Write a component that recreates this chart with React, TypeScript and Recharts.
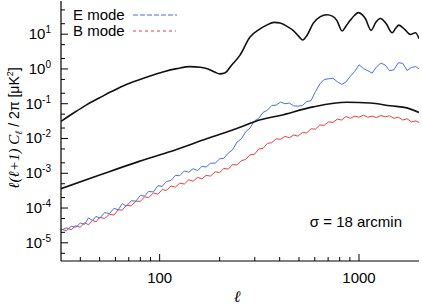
import { Line, LineChart, XAxis, YAxis } from "recharts";

// multipole grid for the simulated spectra
const ELL = [
  32, 34, 36, 38, 40, 42, 44, 46, 48, 50, 53, 56, 59, 62, 65, 68, 72, 76, 80, 84,
  88, 93, 98, 103, 108, 114, 120, 126, 133, 140, 147, 155, 163, 171, 180, 190, 200, 210, 221, 232,
  244, 257, 270, 284, 299, 314, 330, 347, 365, 384, 404, 425, 447, 470, 494, 520, 547, 575, 605, 636,
  669, 703, 740, 778, 818, 860, 905, 952, 1001, 1053, 1107, 1164, 1224, 1288, 1354, 1424, 1498, 1575, 1657, 1742,
  1832, 1927, 2000,
];

const E_MODE = [
  2.5e-5, 2.2e-5, 3.0e-5, 2.8e-5, 3.7e-5, 3.4e-5, 5.2e-5, 4.4e-5, 5.8e-5, 5.1e-5,
  7.4e-5, 6.9e-5, 9.8e-5, 8.9e-5, 1.35e-4, 1.12e-4, 1.62e-4, 1.58e-4, 2.3e-4, 2.2e-4,
  3.0e-4, 2.9e-4, 4.4e-4, 4.2e-4, 5.8e-4, 6.2e-4, 8.7e-4, 8.5e-4, 1.17e-3, 1.07e-3,
  1.35e-3, 1.2e-3, 1.58e-3, 1.51e-3, 1.95e-3, 1.95e-3, 2.6e-3, 2.7e-3, 3.8e-3, 4.7e-3,
  7.8e-3, 9.8e-3, 0.0155, 0.02, 0.032, 0.038, 0.056, 0.065, 0.089, 0.091,
  0.112, 0.1, 0.105, 0.087, 0.085, 0.089, 0.115, 0.123, 0.224, 0.37,
  0.5, 0.52, 0.54, 0.43, 0.36, 0.42, 0.62, 0.85, 1.32, 1.02,
  0.89, 0.76, 1.15, 1.48, 1.29, 0.89, 0.95, 1.51, 1.45, 0.91,
  1.1, 1.17, 1.0,
];

const B_MODE = [
  2.3e-5, 2.7e-5, 2.4e-5, 3.1e-5, 2.8e-5, 3.8e-5, 3.3e-5, 4.4e-5, 4.0e-5, 5.4e-5,
  5.0e-5, 6.6e-5, 6.3e-5, 8.9e-5, 8.7e-5, 1.2e-4, 1.15e-4, 1.58e-4, 1.55e-4, 2.1e-4,
  2.0e-4, 2.7e-4, 2.5e-4, 3.4e-4, 3.2e-4, 4.3e-4, 4.0e-4, 5.2e-4, 4.9e-4, 6.5e-4,
  5.9e-4, 7.6e-4, 6.9e-4, 8.7e-4, 8.3e-4, 1.1e-3, 1.05e-3, 1.38e-3, 1.32e-3, 1.78e-3,
  1.74e-3, 2.3e-3, 2.5e-3, 3.4e-3, 3.5e-3, 5.0e-3, 5.2e-3, 7.2e-3, 7.6e-3, 9.8e-3,
  9.5e-3, 0.0115, 0.0105, 0.0126, 0.0117, 0.0148, 0.0145, 0.019, 0.0186, 0.0245,
  0.024, 0.03, 0.029, 0.036, 0.034, 0.043, 0.038, 0.044, 0.041, 0.047,
  0.041, 0.044, 0.04, 0.046, 0.042, 0.045, 0.038, 0.041, 0.034, 0.037,
  0.03, 0.032, 0.029,
];

// theory curves
const EE_ELL = [
  32, 37, 43, 50, 57, 66, 79, 92, 106, 122, 142, 160, 175, 190, 200, 212, 230, 253, 284, 315,
  344, 375, 402, 440, 467, 500, 522, 550, 589, 640, 690, 735, 774, 823, 860, 904, 950, 991, 1040, 1076,
  1150, 1215, 1280, 1370, 1467, 1525, 1585, 1700, 1810, 1920, 2000,
];
const EE_THEORY = [
  0.031, 0.054, 0.093, 0.148, 0.22, 0.33, 0.49, 0.66, 0.85, 1.02, 1.17, 1.12, 1.0, 0.8, 0.72, 0.76, 1.3, 2.5, 8.3, 13.5,
  18.2, 21.9, 21, 16.2, 12.9, 8.5, 6.8, 9.5, 20.4, 32, 36.3, 33, 25, 12.3, 17, 25, 35, 41.7, 36, 28.2,
  12.9, 22, 28.2, 20, 11, 14.5, 18.2, 13.5, 9.8, 11, 7.4,
];

const BB_ELL = [32, 50, 79, 110, 172, 253, 306, 402, 589, 870, 1140, 1440, 1740, 2000];
const BB_THEORY = [3.6e-4, 8.9e-4, 2.2e-3, 4.0e-3, 9.8e-3, 0.021, 0.032, 0.046, 0.081, 0.11, 0.105, 0.087, 0.076, 0.056];

const X_TICKS = [40, 50, 60, 70, 80, 90, 100, 200, 300, 400, 500, 600, 700, 800, 900, 1000];
const Y_TICKS = [
  5e-6, 1e-5, 2e-5, 5e-5, 1e-4, 2e-4, 5e-4, 1e-3, 2e-3, 5e-3, 1e-2, 2e-2, 5e-2,
  1e-1, 2e-1, 5e-1, 1, 2, 5, 10, 20, 50,
];

const measured = ELL.map((l, i) => ({ l, e: E_MODE[i], b: B_MODE[i] }));
const eeData = EE_ELL.map((l, i) => ({ l, v: EE_THEORY[i] }));
const bbData = BB_ELL.map((l, i) => ({ l, v: BB_THEORY[i] }));

const FONT = "'Liberation Sans', Arial, sans-serif";
const SERIF = "'Liberation Serif', serif";
const isMajor = (v: number) => Math.abs(Math.log10(v) - Math.round(Math.log10(v))) < 1e-6;

const BottomTick = ({ x, y, payload }: any) => {
  const major = isMajor(payload.value);
  return (
    <g>
      <line x1={x} x2={x} y1={y} y2={y - (major ? 7 : 4)} stroke="#000" />
      {major && (
        <text x={x} y={y + 22} textAnchor="middle" fontSize={15} fontFamily={FONT} fill="#000">
          {payload.value}
        </text>
      )}
    </g>
  );
};

const TopTick = ({ x, y, payload }: any) => {
  const major = isMajor(payload.value);
  return <line x1={x} x2={x} y1={y} y2={y + (major ? 7 : 4)} stroke="#000" />;
};

const LeftTick = ({ x, y, payload }: any) => {
  const major = isMajor(payload.value);
  const exp = Math.round(Math.log10(payload.value));
  return (
    <g>
      <line x1={x} x2={x + (major ? 7 : 4)} y1={y} y2={y} stroke="#000" />
      {major && (
        <text x={x - 10} y={y + 5} textAnchor="end" fontSize={15} fontFamily={FONT} fill="#000">
          <tspan>10</tspan>
          <tspan dy={-6} fontSize={10}>{exp}</tspan>
        </text>
      )}
    </g>
  );
};

const RightTick = ({ x, y, payload }: any) => {
  const major = isMajor(payload.value);
  return <line x1={x} x2={x - (major ? 7 : 4)} y1={y} y2={y} stroke="#000" />;
};

export default function App() {
  return (
    <div style={{ position: "absolute", left: 0, top: 0, width: 422, height: 305, background: "#fff" }}>
      <LineChart width={422} height={305} margin={{ top: 1, right: 3, bottom: 0, left: 0 }}>
        <XAxis
          xAxisId="b"
          dataKey="l"
          type="number"
          scale="log"
          domain={[32, 2000]}
          allowDataOverflow
          ticks={X_TICKS}
          interval={0}
          tick={BottomTick}
          tickLine={false}
          tickSize={0}
          tickMargin={0}
          height={44}
          axisLine={{ stroke: "#000", strokeWidth: 1.2 }}
        />
        <XAxis
          xAxisId="t"
          orientation="top"
          dataKey="l"
          type="number"
          scale="log"
          domain={[32, 2000]}
          allowDataOverflow
          ticks={X_TICKS}
          interval={0}
          tick={TopTick}
          tickLine={false}
          tickSize={0}
          tickMargin={0}
          height={0}
          axisLine={{ stroke: "#000", strokeWidth: 1.2 }}
        />
        <YAxis
          yAxisId="l"
          type="number"
          scale="log"
          domain={[3e-6, 90]}
          allowDataOverflow
          ticks={Y_TICKS}
          interval={0}
          tick={LeftTick}
          tickLine={false}
          tickSize={0}
          tickMargin={0}
          width={61}
          axisLine={{ stroke: "#000", strokeWidth: 1.2 }}
        />
        <YAxis
          yAxisId="r"
          orientation="right"
          type="number"
          scale="log"
          domain={[3e-6, 90]}
          allowDataOverflow
          ticks={Y_TICKS}
          interval={0}
          tick={RightTick}
          tickLine={false}
          tickSize={0}
          tickMargin={0}
          width={0}
          axisLine={{ stroke: "#000", strokeWidth: 1.2 }}
        />
        <Line
          xAxisId="b"
          yAxisId="l"
          data={measured}
          dataKey="b"
          type="linear"
          stroke="#f03c3c"
          strokeWidth={1}
          dot={false}
          activeDot={false}
          isAnimationActive={false}
        />
        <Line
          xAxisId="b"
          yAxisId="l"
          data={measured}
          dataKey="e"
          type="linear"
          stroke="#4470e6"
          strokeWidth={1}
          dot={false}
          activeDot={false}
          isAnimationActive={false}
        />
        <Line
          xAxisId="b"
          yAxisId="l"
          data={eeData}
          dataKey="v"
          type="monotone"
          stroke="#111"
          strokeWidth={1.6}
          dot={false}
          activeDot={false}
          isAnimationActive={false}
        />
        <Line
          xAxisId="b"
          yAxisId="l"
          data={bbData}
          dataKey="v"
          type="monotone"
          stroke="#111"
          strokeWidth={1.6}
          dot={false}
          activeDot={false}
          isAnimationActive={false}
        />
      </LineChart>
      <svg
        width={422}
        height={305}
        style={{ position: "absolute", left: 0, top: 0, pointerEvents: "none" }}
      >
        <g fontFamily={FONT} fontSize={15} fill="#000">
          <text x={73} y={20}>E mode</text>
          <line x1={133} x2={177} y1={15} y2={15} stroke="#4470e6" strokeDasharray="5 2" />
          <text x={73} y={36}>B mode</text>
          <line x1={133} x2={176} y1={31} y2={31} stroke="#f03c3c" strokeDasharray="3 3" />
          <text x={402} y={227} textAnchor="end">σ = 18 arcmin</text>
        </g>
        <text x={237} y={302} textAnchor="middle" fontSize={16} fontStyle="italic" fontFamily={SERIF}>
          ℓ
        </text>
        <text
          transform="translate(19,128) rotate(-90)"
          textAnchor="middle"
          fontSize={15}
          fontFamily={SERIF}
        >
          <tspan fontStyle="italic">ℓ(ℓ+1) C</tspan>
          <tspan fontStyle="italic" fontSize={10} dy={3}>ℓ</tspan>
          <tspan dy={-3} fontFamily={FONT} fontSize={14}> / 2π [μK</tspan>
          <tspan fontFamily={FONT} fontSize={9} dy={-6}>2</tspan>
          <tspan fontFamily={FONT} fontSize={14} dy={6}>]</tspan>
        </text>
      </svg>
    </div>
  );
}
